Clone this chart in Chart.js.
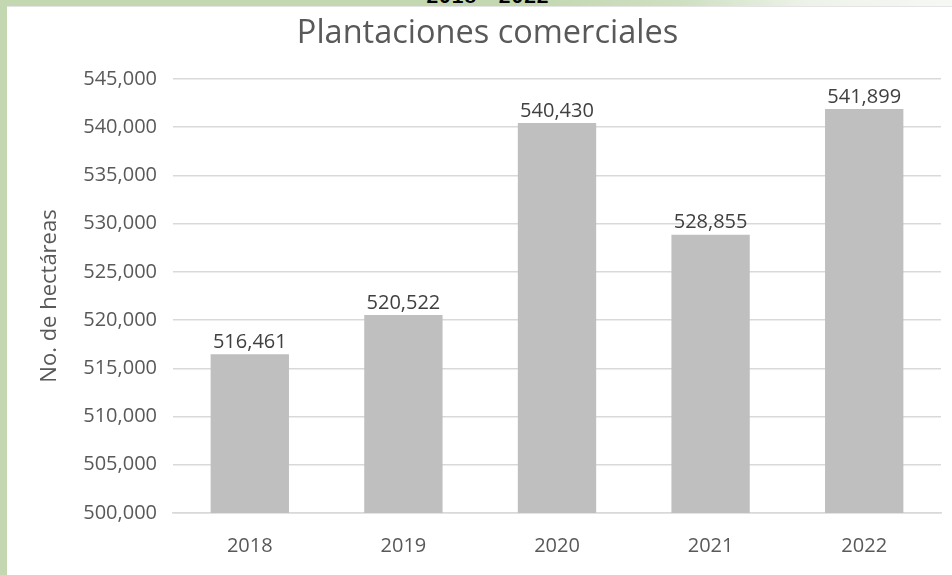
<!DOCTYPE html>
<html>
<head>
<meta charset="utf-8">
<script src="https://cdn.jsdelivr.net/npm/chart.js@4/dist/chart.umd.min.js"></script>
<style>
  html, body { margin: 0; padding: 0; }
  body { width: 952px; height: 575px; position: relative; overflow: hidden; background: #c3d7b1; }
  #topband {
    position: absolute; left: 0; top: 0; width: 952px; height: 6px;
    background: linear-gradient(90deg, #c3d7b1 0%, #c3d7b1 55%, #cfe0c2 72%, #eef3ea 85%, #f6f8f4 100%);
  }
  #heading {
    position: absolute; left: 12px; width: 952px; top: -16px; text-align: center;
    font: bold 21px "Liberation Sans", Arial, sans-serif; color: #000; letter-spacing: 1px;
  }
  #panel {
    position: absolute; left: 7px; top: 6px; width: 945px; height: 569px; background: #ffffff;
    border-top: 1px solid #e4e4e4;
  }
  #chart { position: absolute; left: 0; top: 0; }
</style>
</head>
<body>
<div id="topband"></div>
<div id="heading">2018 - 2022</div>
<div id="panel"></div>
<canvas id="chart" width="952" height="575"></canvas>
<script>
// Superficie de plantaciones comerciales por año (hectáreas)
const years = ['2018', '2019', '2020', '2021', '2022'];
const hectareas = [516461, 520522, 540430, 528855, 541899];
const yMin = 500000;
const yMax = 545000;
const yStep = 5000;

const FONT = '"Open Sans", "Liberation Sans", sans-serif';
const fmt = v => Number(v).toLocaleString('en-US');

// Etiquetas de valor encima de cada barra
const valueLabels = {
  id: 'valueLabels',
  afterDatasetsDraw(chart) {
    const ctx = chart.ctx;
    const meta = chart.getDatasetMeta(0);
    ctx.save();
    ctx.font = '20px ' + FONT;
    ctx.fillStyle = '#404040';
    ctx.textAlign = 'center';
    ctx.textBaseline = 'bottom';
    meta.data.forEach((bar, i) => {
      ctx.fillText(fmt(chart.data.datasets[0].data[i]), bar.x, bar.y - 2);
    });
    ctx.restore();
  }
};

new Chart(document.getElementById('chart'), {
  type: 'bar',
  data: {
    labels: years,
    datasets: [{
      data: hectareas,
      backgroundColor: '#bfbfbf',
      borderWidth: 0,
      barPercentage: 0.51,
      categoryPercentage: 1.0
    }]
  },
  options: {
    responsive: false,
    animation: false,
    layout: { padding: { left: 34, right: 11, top: 0, bottom: 0 } },
    plugins: {
      legend: { display: false },
      tooltip: { enabled: false },
      title: {
        display: true,
        text: 'Plantaciones comerciales',
        color: '#595959',
        font: { family: FONT, size: 32.5, weight: 'normal' },
        padding: { top: 14, bottom: 26 }
      }
    },
    scales: {
      x: {
        afterFit(scale) { scale.height = 62; },
        grid: { display: false, drawTicks: false },
        border: { display: true, color: '#d9d9d9', width: 1.5 },
        ticks: { color: '#595959', font: { family: FONT, size: 20 }, padding: 21 }
      },
      y: {
        min: yMin,
        max: yMax,
        afterFit(scale) { scale.width = 139; },
        grid: { color: '#d9d9d9', lineWidth: 1.5, drawTicks: false },
        border: { display: false },
        ticks: {
          stepSize: yStep,
          color: '#595959',
          font: { family: FONT, size: 20 },
          padding: 16,
          callback: v => fmt(v)
        },
        title: {
          display: true,
          text: 'No. de hectáreas',
          color: '#595959',
          font: { family: FONT, size: 22 },
          padding: { top: 3, bottom: 0 }
        }
      }
    }
  },
  plugins: [valueLabels]
});
</script>
</body>
</html>
